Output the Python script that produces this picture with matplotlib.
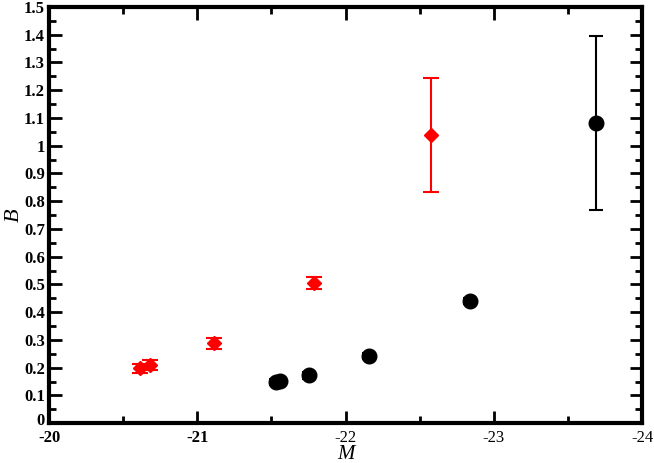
import matplotlib.pyplot as plt
import matplotlib.transforms as mtransforms
from matplotlib.ticker import MultipleLocator, FuncFormatter

# red diamonds
red_m = [-20.615, -20.68, -21.115, -21.785, -22.575]
red_b = [0.198, 0.209, 0.288, 0.505, 1.039]
red_err_lo = [0.017, 0.017, 0.019, 0.023, 0.207]
red_err_hi = [0.017, 0.017, 0.019, 0.023, 0.205]

# black circles
blk_m = [-21.53, -21.56, -21.75, -22.16, -22.84, -23.69]
blk_b = [0.148, 0.152, 0.173, 0.242, 0.440, 1.081]
blk_err_lo = [0.012, 0.012, 0.012, 0.012, 0.012, 0.314]
blk_err_hi = [0.012, 0.012, 0.012, 0.012, 0.012, 0.315]

plt.rcParams['font.family'] = ['Liberation Serif', 'DejaVu Serif']

fig = plt.figure(figsize=(6.54, 4.63), dpi=100)
ax = fig.add_axes([0.075, 0.086, 0.907, 0.899])

ax.errorbar(red_m, red_b, yerr=[red_err_lo, red_err_hi], fmt='D', color='red',
            ms=7, capsize=6, elinewidth=1.5, capthick=1.5)
ax.errorbar(blk_m, blk_b, yerr=[blk_err_lo, blk_err_hi], fmt='o', color='black',
            ms=10.5, capsize=5, elinewidth=1.5, capthick=1.5)

ax.set_xlim(-20, -24)
ax.set_ylim(0, 1.5)
ax.xaxis.set_major_locator(MultipleLocator(1))
ax.xaxis.set_minor_locator(MultipleLocator(0.5))
ax.yaxis.set_major_locator(MultipleLocator(0.1))
ax.yaxis.set_minor_locator(MultipleLocator(0.05))
ax.xaxis.set_major_formatter(FuncFormatter(lambda v, p: '%g' % v))
ax.yaxis.set_major_formatter(FuncFormatter(lambda v, p: '%g' % round(v, 2)))

ax.tick_params(which='both', direction='in', top=True, right=True, width=2)
ax.tick_params(which='major', length=9, labelsize=12)
ax.tick_params(which='minor', length=5)
ax.tick_params(axis='x', which='major', pad=5)
ax.tick_params(axis='y', which='major', pad=3)
for sp in ax.spines.values():
    sp.set_linewidth(3)

fig.canvas.draw()
for lbl in ax.get_yticklabels():
    lbl.set_fontweight('bold')
    if lbl.get_text() == '0':
        lbl.set_transform(lbl.get_transform() +
                          mtransforms.ScaledTranslation(0, 3 / 72, fig.dpi_scale_trans))
for lbl in ax.get_xticklabels():
    if lbl.get_text() in ('-20', '-21'):
        lbl.set_fontweight('bold')

ax.set_xlabel('M', fontsize=15, style='italic', labelpad=-1)
ax.set_ylabel('B', fontsize=16, style='italic', labelpad=0)

fig.savefig('out.png', dpi=100)
